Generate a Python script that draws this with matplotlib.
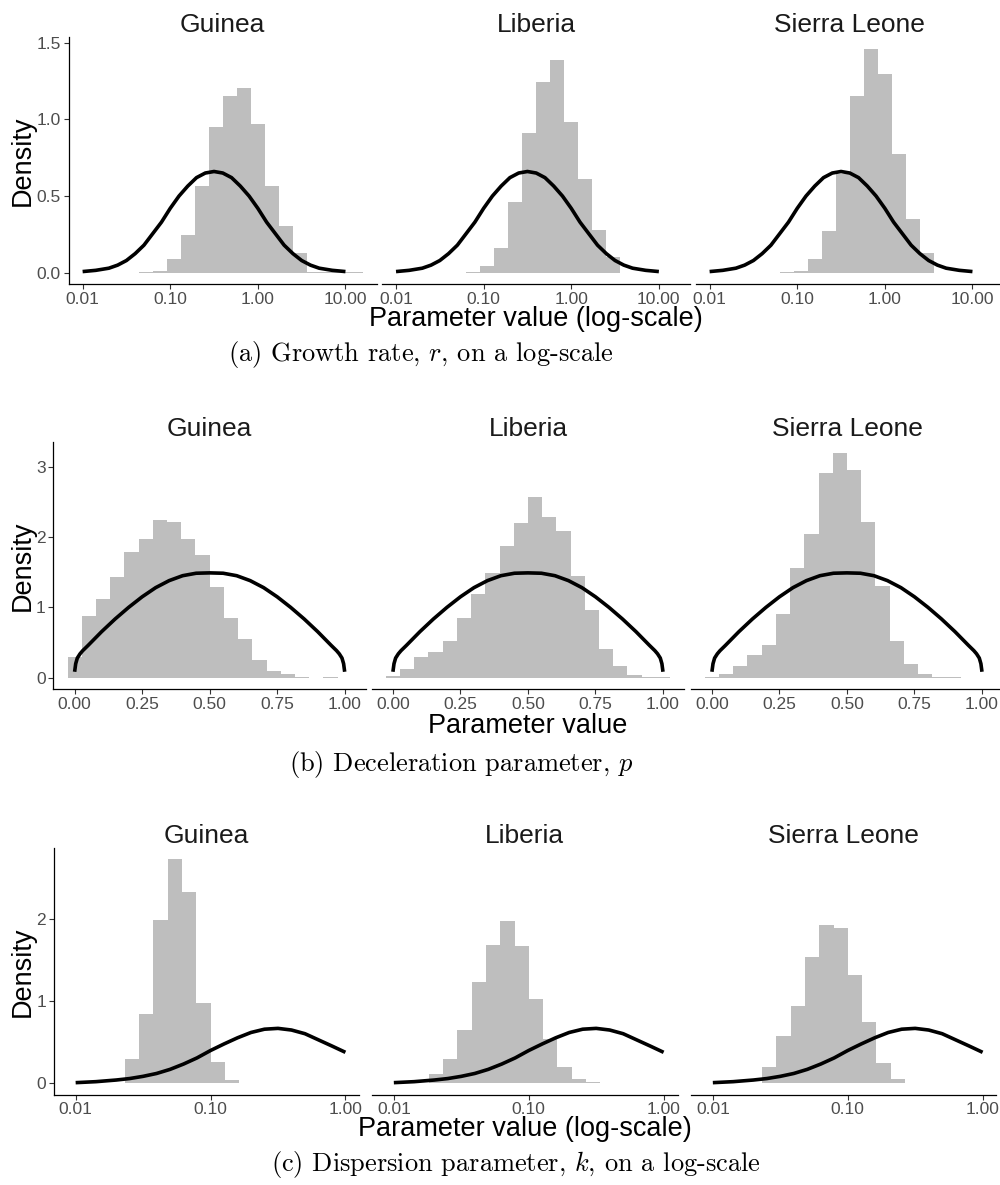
import numpy as np
import matplotlib
matplotlib.use("Agg")
import matplotlib.pyplot as plt

plt.rcParams['font.family'] = ['Liberation Sans', 'DejaVu Sans']
plt.rcParams['mathtext.fontset'] = 'cm'

countries = ["Guinea", "Liberia", "Sierra Leone"]

# (a) growth rate r -- histogram on log10 scale
r_bin_width = 0.16
r_first_edge = [-1.36, -1.20, -1.20]
r_heights = [
    [0.004, 0.013, 0.09, 0.243, 0.564, 0.948, 1.15, 1.204, 0.97, 0.566, 0.304, 0.126, 0.007, 0.003, 0.002, 0.002],
    [0.004, 0.043, 0.16, 0.46, 0.91, 1.24, 1.384, 0.983, 0.61, 0.278, 0.1],
    [0.003, 0.013, 0.091, 0.271, 0.646, 1.154, 1.46, 1.297, 0.772, 0.349, 0.132],
]
# prior density for r (x in log10 units)
r_prior_x = [-2.0, -1.85, -1.7, -1.6, -1.5, -1.4, -1.3, -1.2, -1.1, -1.0, -0.9, -0.8, -0.7, -0.6, -0.5,
             -0.4, -0.3, -0.2, -0.1, 0.0, 0.1, 0.2, 0.3, 0.4, 0.5, 0.6, 0.7, 0.85, 1.0]
r_prior_y = [0.008, 0.016, 0.03, 0.05, 0.08, 0.125, 0.18, 0.255, 0.33, 0.42, 0.50, 0.565, 0.62, 0.65, 0.66,
             0.65, 0.62, 0.565, 0.50, 0.42, 0.33, 0.255, 0.18, 0.125, 0.08, 0.05, 0.03, 0.016, 0.008]

# (b) deceleration parameter p -- linear scale
p_bin_width = 1 / 19
p_first_edge = [-0.5 / 19, -0.5 / 19, -0.5 / 19]
p_heights = [
    [0.294, 0.878, 1.125, 1.43, 1.785, 1.975, 2.24, 2.216, 1.965, 1.747, 1.296, 0.854, 0.546, 0.247, 0.095,
     0.052, 0.014, 0.0, 0.014],
    [0.024, 0.119, 0.299, 0.365, 0.527, 0.845, 1.19, 1.49, 1.865, 2.197, 2.568, 2.283, 2.083, 1.452, 0.959,
     0.413, 0.166, 0.038, 0.014, 0.005],
    [0.014, 0.057, 0.171, 0.318, 0.465, 0.902, 1.557, 2.036, 2.914, 3.194, 2.957, 2.216, 1.31, 0.527, 0.195,
     0.057, 0.014, 0.005],
]
p_prior_x = [0.0, 0.004, 0.01, 0.02, 0.03, 0.05, 0.1, 0.15, 0.2, 0.25, 0.3, 0.35, 0.4, 0.45, 0.5,
             0.55, 0.6, 0.65, 0.7, 0.75, 0.8, 0.85, 0.9, 0.95, 0.97, 0.98, 0.99, 0.996, 1.0]
p_prior_y = [0.085, 0.2, 0.28, 0.34, 0.385, 0.46, 0.655, 0.835, 1.0, 1.15, 1.28, 1.38, 1.45, 1.485, 1.49,
             1.485, 1.45, 1.38, 1.28, 1.15, 1.0, 0.835, 0.655, 0.46, 0.385, 0.34, 0.28, 0.2, 0.085]

# (c) dispersion parameter k -- histogram on log10 scale
k_bin_width = 0.106
k_first_edge = [-1.635, -2.059, -1.635]
k_heights = [
    [0.293, 0.846, 1.99, 2.73, 2.337, 0.976, 0.26, 0.037],
    [0.003, 0.003, 0.004, 0.114, 0.297, 0.65, 1.236, 1.687, 1.976, 1.679, 1.024, 0.537, 0.195, 0.053, 0.012, 0.004],
    [0.195, 0.577, 0.947, 1.537, 1.931, 1.89, 1.321, 0.748, 0.252, 0.053, 0.004],
]
k_prior_x = [-2.0, -1.85, -1.7, -1.6, -1.5, -1.4, -1.3, -1.2, -1.1, -1.0, -0.9, -0.8, -0.7, -0.6, -0.5,
             -0.4, -0.3, -0.2, -0.1, 0.0]
k_prior_y = [0.008, 0.02, 0.04, 0.058, 0.085, 0.12, 0.17, 0.235, 0.31, 0.40, 0.48, 0.555, 0.62, 0.66, 0.67,
             0.65, 0.605, 0.53, 0.455, 0.378]

rows = [
    dict(first=r_first_edge, bw=r_bin_width, h=r_heights, cx=r_prior_x, cy=r_prior_y, log=True,
         xticks=[0.01, 0.1, 1, 10], xlabels=["0.01", "0.10", "1.00", "10.00"],
         yticks=[0, 0.5, 1.0, 1.5], ylabels=["0.0", "0.5", "1.0", "1.5"],
         xlabel="Parameter value (log-scale)",
         caption=r"(a) Growth rate, $r$, on a log-scale"),
    dict(first=p_first_edge, bw=p_bin_width, h=p_heights, cx=p_prior_x, cy=p_prior_y, log=False,
         xticks=[0, 0.25, 0.5, 0.75, 1.0], xlabels=["0.00", "0.25", "0.50", "0.75", "1.00"],
         yticks=[0, 1, 2, 3], ylabels=["0", "1", "2", "3"],
         xlabel="Parameter value",
         caption=r"(b) Deceleration parameter, $p$"),
    dict(first=k_first_edge, bw=k_bin_width, h=k_heights, cx=k_prior_x, cy=k_prior_y, log=True,
         xticks=[0.01, 0.1, 1.0], xlabels=["0.01", "0.10", "1.00"],
         yticks=[0, 1, 2], ylabels=["0", "1", "2"],
         xlabel="Parameter value (log-scale)",
         caption=r"(c) Dispersion parameter, $k$, on a log-scale"),
]

# layout in pixels (figure is 1000 x 1185)
W, H = 1000, 1185
panel_left = [[68.6, 382.0, 695.6], [53.3, 371.6, 690.6], [53.8, 372.0, 691.0]]
panel_w = [308.4, 312.7, 305.5]
panel_top = [37.5, 441.7, 848.3]
panel_bot = [284.0, 689.0, 1094.5]
xlabel_pos = [(536, 319), (528, 726), (525, 1129)]
caption_pos = [(421, 355), (461, 764), (516, 1165)]

BAR = "#bebebe"
fig = plt.figure(figsize=(W / 100, H / 100), dpi=100)

for i, row in enumerate(rows):
    axes = []
    for j in range(3):
        rect = [panel_left[i][j] / W, 1 - panel_bot[i] / H, panel_w[i] / W, (panel_bot[i] - panel_top[i]) / H]
        if j == 0:
            ax = fig.add_axes(rect)
        else:
            ax = fig.add_axes(rect, sharex=axes[0], sharey=axes[0])
        axes.append(ax)
        ax.use_sticky_edges = False

        h = np.array(row["h"][j])
        edges = row["first"][j] + row["bw"] * np.arange(len(h) + 1)
        cx = np.array(row["cx"])
        if row["log"]:
            edges = 10 ** edges
            cx = 10 ** cx
        ax.bar(edges[:-1], h, width=np.diff(edges), align="edge", color=BAR, linewidth=0)
        ax.plot(cx, row["cy"], color="black", lw=2.6, solid_capstyle="butt")

        ax.set_title(countries[j], fontsize=19, pad=4, color="#1a1a1a")
        for s in ["top", "right"]:
            ax.spines[s].set_visible(False)
        ax.spines["bottom"].set_linewidth(0.9)
        ax.spines["left"].set_linewidth(0.9)
        if j > 0:
            ax.spines["left"].set_visible(False)
            ax.tick_params(axis="y", left=False, labelleft=False)

    if row["log"]:
        axes[0].set_xscale("log")
    axes[0].set_xticks(row["xticks"])
    axes[0].set_xticklabels(row["xlabels"])
    axes[0].set_yticks(row["yticks"])
    axes[0].set_yticklabels(row["ylabels"])
    for ax in axes:
        ax.minorticks_off()
        ax.tick_params(length=3.5, width=0.8, color="#333333", labelsize=12.5, labelcolor="#4d4d4d", pad=2)
        ax.autoscale_view()

    fig.text(xlabel_pos[i][0] / W, 1 - xlabel_pos[i][1] / H, row["xlabel"], fontsize=19.5,
             ha="center", va="center")
    fig.text(23 / W, 1 - (panel_top[i] + panel_bot[i]) / 2 / H, "Density", fontsize=19.5,
             rotation=90, ha="center", va="center")
    fig.text(caption_pos[i][0] / W, 1 - caption_pos[i][1] / H, row["caption"], fontsize=19,
             family="cmr10", ha="center", va="center")

fig.savefig("out.png", dpi=100)
